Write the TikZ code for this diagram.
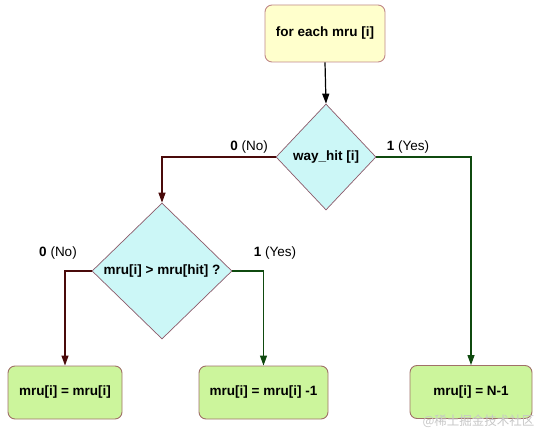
\documentclass[tikz,border=0pt]{standalone}
\usepackage{fontspec}
\setmainfont{Liberation Sans}
\newfontfamily\cjk{Noto Sans CJK SC}
\usetikzlibrary{shapes.geometric,arrows.meta}
\definecolor{startfill}{HTML}{FFFFCC}
\definecolor{startdraw}{HTML}{C08888}
\definecolor{decfill}{HTML}{CCF7F7}
\definecolor{decdraw}{HTML}{8C5A6A}
\definecolor{endfill}{HTML}{CCF59C}
\definecolor{enddraw}{HTML}{A07068}
\definecolor{noline}{HTML}{4A0A0A}
\definecolor{yesline}{HTML}{0F4A0F}
\tikzset{
  startbox/.style={draw=startdraw, fill=startfill, rounded corners=7pt, line width=0.9pt,
    minimum width=120pt, minimum height=57pt, font=\bfseries\fontsize{13.5}{15}\selectfont},
  decbox/.style={draw=decdraw, fill=decfill, diamond, line width=0.7pt, inner sep=0pt,
    font=\bfseries\fontsize{13.5}{15}\selectfont},
  endbox/.style={draw=enddraw, fill=endfill, rounded corners=7pt, line width=0.9pt,
    minimum height=53pt, font=\bfseries\fontsize{13.5}{15}\selectfont},
  conn/.style={line width=1.2pt, -{Triangle[length=10pt,width=7pt]}},
  lbl/.style={font=\fontsize{13.5}{15}\selectfont, inner sep=1pt}
}
\begin{document}
\begin{tikzpicture}[x=1pt,y=-1pt]
\useasboundingbox (0,0) rectangle (540,430);
\node[startbox] (start) at (325,33.5) {for each mru [i]};
\node[decbox, minimum width=100pt, minimum height=106pt] (d1) at (326,157) {way\_hit [i]};
\node[decbox, minimum width=140pt, minimum height=136pt] (d2) at (162,271) {mru[i] > mru[hit] ?};
\node[endbox, minimum width=114pt] (e1) at (65,392.5) {mru[i] = mru[i]};
\node[endbox, minimum width=129pt] (e2) at (263.5,392.5) {mru[i] = mru[i] -1};
\node[endbox, minimum width=122pt] (e3) at (471,392) {mru[i] = N-1};
\draw[conn, black] (start.south) -- (d1.north);
\draw[conn, noline] (d1.west) -| (d2.north);
\draw[conn, yesline] (d1.east) -| (e3.north);
\draw[conn, noline] (d2.west) -| (e1.north);
\draw[conn, yesline] (d2.east) -| (e2.north);
\node[lbl] (l1) at (249,147) {\textbf{0} (No)};
\node[lbl] (l2) at (408,147) {\textbf{1} (Yes)};
\node[lbl] (l3) at (58,253) {\textbf{0} (No)};
\node[lbl] (l4) at (275,253) {\textbf{1} (Yes)};
\node[font=\cjk\fontsize{12.5}{14}\selectfont, text=black!22, anchor=east] (wm) at (538,421) {@稀土掘金技术社区};
\end{tikzpicture}
\end{document}
